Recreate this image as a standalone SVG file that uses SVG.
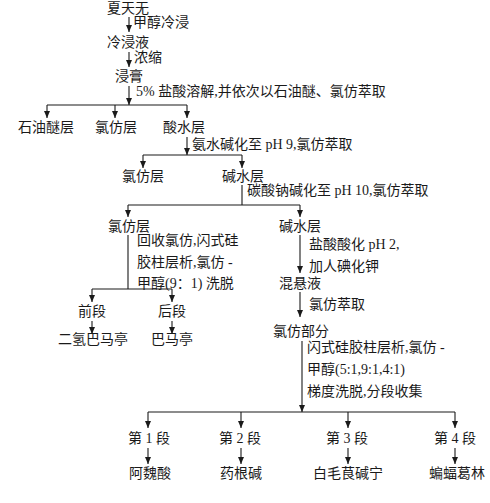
<svg xmlns="http://www.w3.org/2000/svg" width="490" height="503" viewBox="0 0 490 503">
<defs>
<marker id="ah" markerWidth="8" markerHeight="8" refX="7" refY="4" orient="auto" markerUnits="userSpaceOnUse">
<path d="M0,1 L7,4 L0,7 Z" fill="#1a1a1a"/>
</marker>
<style>
text{font-family:"Liberation Serif","Noto Sans CJK SC",serif;font-size:14px;fill:#1a1a1a}
.n{text-anchor:middle}
.l{text-anchor:start}
#connectors line,#connectors path{stroke:#1a1a1a;stroke-width:1.1;fill:none}
.a{marker-end:url(#ah)}
</style>
</defs>
<rect width="490" height="503" fill="#fff"/>
<g id="connectors">
<line class="a" x1="129" y1="17" x2="129" y2="32"/>
<line class="a" x1="129" y1="52" x2="129" y2="67"/>
<line class="a" x1="129" y1="86" x2="129" y2="105"/>
<path d="M47,105 H187"/>
<line class="a" x1="47" y1="105" x2="47" y2="118"/>
<line class="a" x1="115" y1="105" x2="115" y2="118"/>
<line class="a" x1="187" y1="105" x2="187" y2="118"/>
<line class="a" x1="187" y1="137" x2="187" y2="155"/>
<path d="M143,155 H242"/>
<line class="a" x1="143" y1="155" x2="143" y2="168"/>
<line class="a" x1="242" y1="155" x2="242" y2="168"/>
<path d="M242,185 V205 M128,205 H300"/>
<line class="a" x1="128" y1="205" x2="128" y2="217"/>
<line class="a" x1="300" y1="205" x2="300" y2="217"/>
<path d="M128,235 V289 M92,289 H172"/>
<line class="a" x1="92" y1="289" x2="92" y2="302"/>
<line class="a" x1="172" y1="289" x2="172" y2="302"/>
<line class="a" x1="92" y1="321" x2="92" y2="334"/>
<line class="a" x1="172" y1="321" x2="172" y2="334"/>
<line class="a" x1="300" y1="235" x2="300" y2="273"/>
<line class="a" x1="300" y1="292" x2="300" y2="317"/>
<line class="a" x1="302" y1="341" x2="302" y2="412"/>
<path d="M148,412 H455"/>
<line class="a" x1="148" y1="412" x2="148" y2="428"/>
<line class="a" x1="241" y1="412" x2="241" y2="428"/>
<line class="a" x1="348" y1="412" x2="348" y2="428"/>
<line class="a" x1="455" y1="412" x2="455" y2="428"/>
<line class="a" x1="148" y1="448" x2="148" y2="464"/>
<line class="a" x1="241" y1="448" x2="241" y2="464"/>
<line class="a" x1="348" y1="448" x2="348" y2="464"/>
<line class="a" x1="455" y1="448" x2="455" y2="464"/>
</g>
<g id="labels">
<text class="l" x="133" y="27">甲醇冷浸</text>
<text class="l" x="134" y="62">浓缩</text>
<text class="l" x="136" y="96">5% 盐酸溶解,并依次以石油醚、氯仿萃取</text>
<text class="l" x="192" y="149">氨水碱化至 pH 9,氯仿萃取</text>
<text class="l" x="247" y="195">碳酸钠碱化至 pH 10,氯仿萃取</text>
<text class="l" x="137" y="245">回收氯仿,闪式硅</text>
<text class="l" x="137" y="267">胶柱层析,氯仿 -</text>
<text class="l" x="137" y="288">甲醇(9：1) 洗脱</text>
<text class="l" x="309" y="249">盐酸酸化 pH 2,</text>
<text class="l" x="309" y="271">加人碘化钾</text>
<text class="l" x="309" y="309">氯仿萃取</text>
<text class="l" x="307" y="352">闪式硅胶柱层析,氯仿 -</text>
<text class="l" x="307" y="374">甲醇(5:1,9:1,4:1)</text>
<text class="l" x="307" y="396">梯度洗脱,分段收集</text>
</g>
<g id="n1"><text class="n" x="128" y="13">夏天无</text></g>
<g id="n2"><text class="n" x="128" y="47">冷浸液</text></g>
<g id="n3"><text class="n" x="129" y="81">浸膏</text></g>
<g id="n4"><text class="n" x="46" y="132">石油醚层</text></g>
<g id="n5"><text class="n" x="116" y="132">氯仿层</text></g>
<g id="n6"><text class="n" x="184" y="132">酸水层</text></g>
<g id="n7"><text class="n" x="143" y="181">氯仿层</text></g>
<g id="n8"><text class="n" x="243" y="181">碱水层</text></g>
<g id="n9"><text class="n" x="129" y="231">氯仿层</text></g>
<g id="n10"><text class="n" x="300" y="231">碱水层</text></g>
<g id="n11"><text class="n" x="92" y="316">前段</text></g>
<g id="n12"><text class="n" x="172" y="316">后段</text></g>
<g id="n13"><text class="n" x="93" y="344">二氢巴马亭</text></g>
<g id="n14"><text class="n" x="172" y="344">巴马亭</text></g>
<g id="n15"><text class="n" x="300" y="288">混悬液</text></g>
<g id="n16"><text class="n" x="301" y="336">氯仿部分</text></g>
<g id="n17"><text class="n" x="149" y="443">第 1 段</text></g>
<g id="n18"><text class="n" x="240" y="443">第 2 段</text></g>
<g id="n19"><text class="n" x="347" y="443">第 3 段</text></g>
<g id="n20"><text class="n" x="455" y="443">第 4 段</text></g>
<g id="n21"><text class="n" x="150" y="478">阿魏酸</text></g>
<g id="n22"><text class="n" x="241" y="478">药根碱</text></g>
<g id="n23"><text class="n" x="348" y="478">白毛茛碱宁</text></g>
<g id="n24"><text class="n" x="457" y="478">蝙蝠葛林</text></g>
</svg>
